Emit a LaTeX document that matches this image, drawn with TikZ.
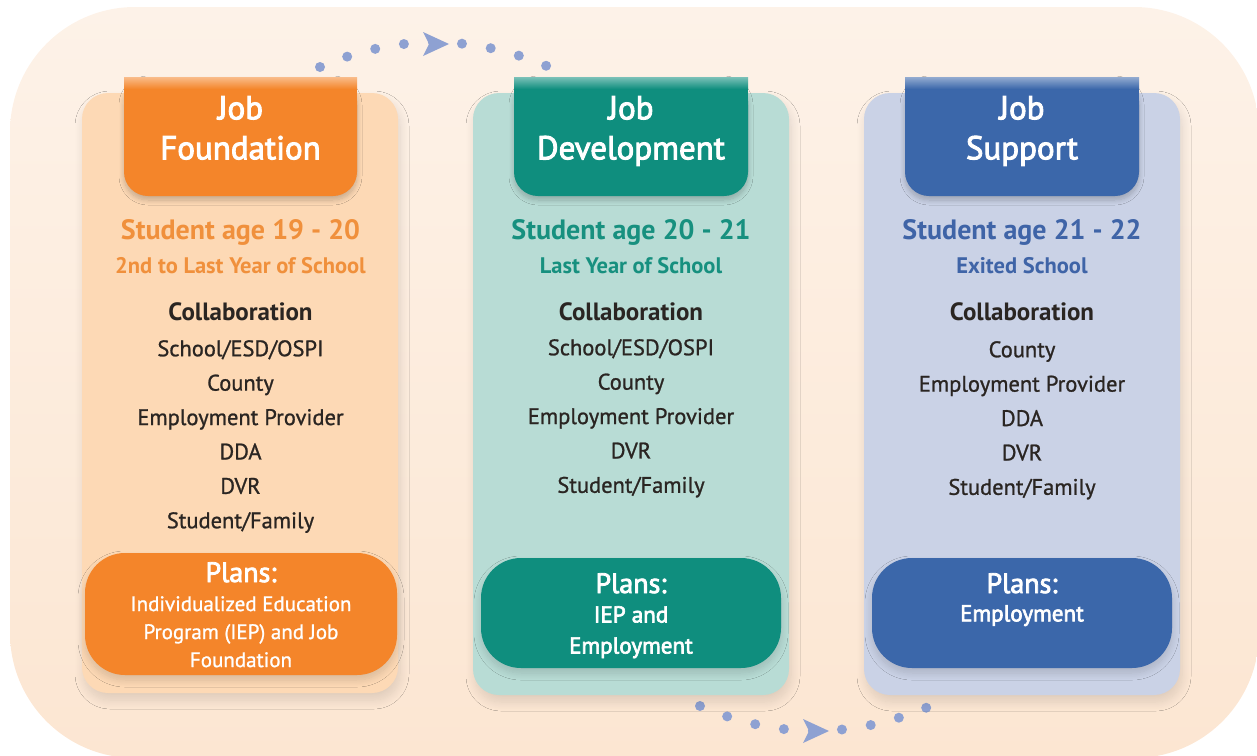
\documentclass[tikz,border=0pt]{standalone}
\usepackage{fontspec}
\setmainfont{PT Sans}
\newfontfamily\semifont{PT Sans}[FakeBold=2.8]
\newfontfamily\medfont{PT Sans}[FakeBold=1]
\usetikzlibrary{shadows.blur}

\definecolor{bgTop}{HTML}{FDF2E8}
\definecolor{bgBot}{HTML}{FCE6D2}
\definecolor{fndLight}{HTML}{FDD9B5}
\definecolor{fndDark}{HTML}{F4852A}
\definecolor{fndText}{HTML}{F0903C}
\definecolor{devLight}{HTML}{B8DCD5}
\definecolor{devDark}{HTML}{0F8E7E}
\definecolor{devText}{HTML}{17907F}
\definecolor{supLight}{HTML}{CAD2E6}
\definecolor{supDark}{HTML}{3B67AA}
\definecolor{supText}{HTML}{3F64A7}
\definecolor{dotBlue}{HTML}{8EA1D2}
\definecolor{listText}{HTML}{2A2522}

\tikzset{
	panel/.style={rounded corners=26pt,
		blur shadow={shadow xshift=2pt, shadow yshift=-7pt, shadow blur radius=9pt,
			shadow blur steps=14, shadow opacity=12}},
	tabbox/.style={rounded corners=24pt,
		blur shadow={shadow xshift=0pt, shadow yshift=-4pt, shadow blur radius=5pt,
			shadow blur steps=10, shadow opacity=22}},
	planbox/.style={rounded corners=40pt,
		blur shadow={shadow xshift=0pt, shadow yshift=-5pt, shadow blur radius=7pt,
			shadow blur steps=12, shadow opacity=15}},
	dotarc/.style={dotBlue, line width=10pt, line cap=round, dash pattern=on 0pt off 29.1pt},
	title/.style={text=white, align=center, anchor=north, inner sep=0pt,
		font=\semifont\fontsize{33}{40}\selectfont},
	age/.style={anchor=base, inner sep=0pt, font=\bfseries\fontsize{28}{30}\selectfont},
	year/.style={anchor=base, inner sep=0pt, font=\bfseries\fontsize{22.5}{24}\selectfont},
	collab/.style={text=listText, anchor=base, inner sep=0pt, font=\bfseries\fontsize{25}{26}\selectfont},
	list/.style={text=listText, align=center, anchor=north, inner sep=0pt,
		font=\medfont\fontsize{22.5}{34.4}\selectfont},
	plans/.style={text=white, anchor=base, inner sep=0pt, font=\semifont\fontsize{28}{30}\selectfont},
	plansdetail/.style={text=white, align=center, anchor=north, inner sep=0pt}
}

\begin{document}
\begin{tikzpicture}[x=1pt,y=-1pt]
	\useasboundingbox (0,0) rectangle (1257,755);
	\shade[top color=bgTop, bottom color=bgBot, rounded corners=125pt] (10,7) rectangle (1259,758);

	% dotted arcs between the columns
	\path (320,67) coordinate (topArcL);
	\path (396,34) coordinate (topArcC1);
	\path (473,34) coordinate (topArcC2);
	\path (549,67) coordinate (topArcR);
	\path (435,44) coordinate (topTip);
	\path (700,706) coordinate (botArcL);
	\path (776,739) coordinate (botArcC1);
	\path (852,739) coordinate (botArcC2);
	\path (928,707) coordinate (botArcR);
	\path (815,731) coordinate (botTip);
	\draw[dotarc] (topArcL) .. controls (topArcC1) and (topArcC2) .. (topArcR);
	\draw[dotarc] (botArcL) .. controls (botArcC1) and (botArcC2) .. (botArcR);
	\fill[dotBlue] ([shift={(-12,-12)}]topTip) -- ++(26,12) -- ++(-26,12) -- ++(6,-12) -- cycle;
	\fill[dotBlue] ([shift={(-12,-12)}]botTip) -- ++(26,12) -- ++(-26,12) -- ++(6,-12) -- cycle;

	% panels
	\fill[fndLight, panel] (82,93) rectangle (398,693);
	\fill[devLight, panel] (473,93) rectangle (789,695);
	\fill[supLight, panel] (864,93) rectangle (1180,695);

	% header tabs
	\fill[fndDark, tabbox] (124,77) rectangle (357,196);
	\fill[fndDark] (124,77) rectangle (357,140);
	\shade[top color=fndDark!55!white, bottom color=fndDark] (124,77) rectangle (357,89);
	\fill[devDark, tabbox] (514,77) rectangle (748,196);
	\fill[devDark] (514,77) rectangle (748,140);
	\shade[top color=devDark!55!white, bottom color=devDark] (514,77) rectangle (748,89);
	\fill[supDark, tabbox] (905,77) rectangle (1139,196);
	\fill[supDark] (905,77) rectangle (1139,140);
	\shade[top color=supDark!55!white, bottom color=supDark] (905,77) rectangle (1139,89);

	% plan boxes
	\fill[fndDark, planbox] (85,553) rectangle (397,675);
	\fill[devDark, planbox] (481,558) rectangle (781,668);
	\fill[supDark, planbox] (872,558) rectangle (1172,668);

	% Job Foundation
	\node[title] (fndTitle) at (240.5,96) {Job\\Foundation};
	\node[age, fndText] (fndAge) at (240.5,239) {Student age 19 - 20};
	\node[year, fndText] (fndYear) at (240.5,273) {2nd to Last Year of School};
	\node[collab] (fndCollab) at (240.5,320) {Collaboration};
	\node[list] (fndList) at (240.5,340) {School/ESD/OSPI\\County\\Employment Provider\\DDA\\DVR\\Student/Family};
	\node[plans] (fndPlans) at (241,582) {Plans:};
	\node[plansdetail, font=\medfont\fontsize{21}{28}\selectfont] (fndPlansText) at (241,596)
		{Individualized Education\\Program (IEP) and Job\\Foundation};

	% Job Development
	\node[title] (devTitle) at (631,96) {Job\\Development};
	\node[age, devText] (devAge) at (631,239) {Student age 20 - 21};
	\node[year, devText] (devYear) at (631,273) {Last Year of School};
	\node[collab] (devCollab) at (631,320) {Collaboration};
	\node[list] (devList) at (631,339) {School/ESD/OSPI\\County\\Employment Provider\\DVR\\Student/Family};
	\node[plans] (devPlans) at (631,593) {Plans:};
	\node[plansdetail, font=\semifont\fontsize{23}{31}\selectfont] (devPlansText) at (631,606)
		{IEP and\\Employment};

	% Job Support
	\node[title] (supTitle) at (1022,96) {Job\\Support};
	\node[age, supText] (supAge) at (1022,239) {Student age 21 - 22};
	\node[year, supText] (supYear) at (1022,273) {Exited School};
	\node[collab] (supCollab) at (1022,320) {Collaboration};
	\node[list] (supList) at (1022,341) {County\\Employment Provider\\DDA\\DVR\\Student/Family};
	\node[plans] (supPlans) at (1022,593) {Plans:};
	\node[plansdetail, font=\semifont\fontsize{23}{31}\selectfont] (supPlansText) at (1022,605)
		{Employment};
\end{tikzpicture}
\end{document}
